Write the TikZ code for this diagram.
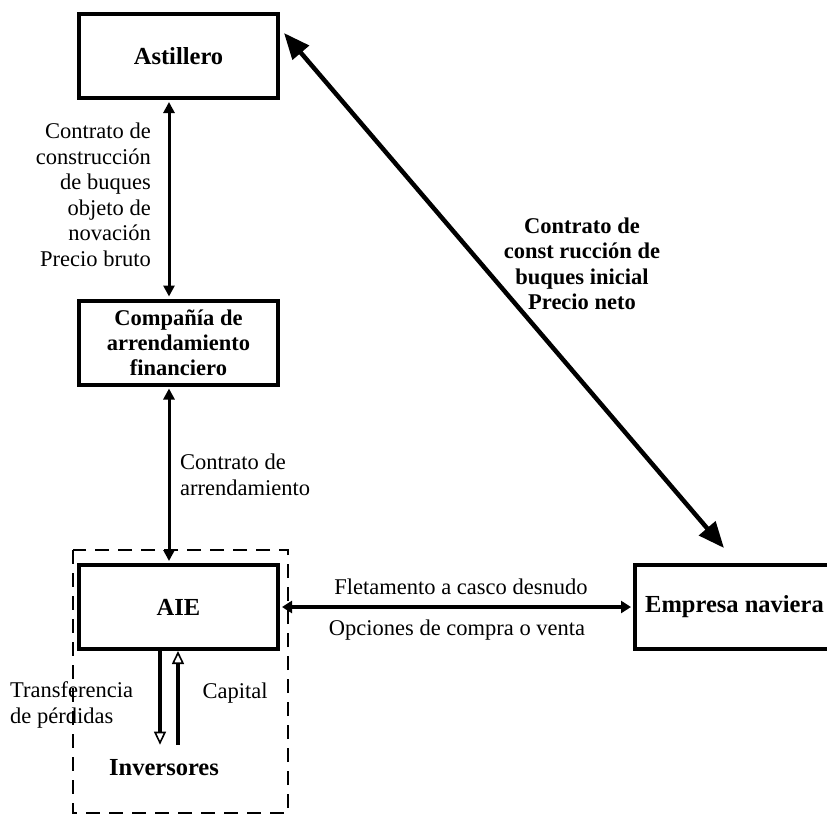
\documentclass[tikz,border=0pt]{standalone}
\usepackage{fontspec}
\setmainfont{Liberation Serif}
\usetikzlibrary{arrows.meta}
\begin{document}
\begin{tikzpicture}[x=1pt,y=-1pt,
 box/.style={draw, line width=4pt, minimum width=199pt, minimum height=84pt, inner sep=0pt, font=\bfseries\fontsize{24.5}{27}\selectfont, align=center},
 lbl/.style={inner sep=0pt, font=\fontsize{22.5}{25.5}\selectfont},
 blbl/.style={inner sep=0pt, font=\bfseries\fontsize{22.5}{25.5}\selectfont},
 varrow/.style={line width=3pt, {Triangle[length=11pt,width=11pt]}-{Triangle[length=11pt,width=11pt]}, shorten <=2pt, shorten >=2pt},
 harrow/.style={line width=4pt, {Triangle[length=10pt,width=12pt]}-{Triangle[length=10pt,width=12pt]}, shorten <=2pt, shorten >=2pt},
 darrow/.style={line width=4.5pt, {Triangle[length=26pt,width=21pt]}-{Triangle[length=26pt,width=21pt]}},
 oarrow/.style={line width=4.5pt, -{Triangle[open, length=13pt, width=12pt, line width=1.6pt]}},
 grp/.style={draw, dashed, line width=2.8pt, dash pattern=on 14pt off 9pt}
]
\useasboundingbox (0,0) rectangle (827,816);
\clip (0,0) rectangle (827,816);

\node[box] (ast) at (178.5,56) {Astillero};
\node[box, font=\bfseries\fontsize{22.5}{25}\selectfont] (comp) at (178.5,342.5) {Compañía de\\arrendamiento\\financiero};
\node[box] (aie) at (178.5,607) {AIE};
\node[box] (emp) at (734.5,607) {Empresa naviera};
\node[inner xsep=0pt, inner ysep=15pt, font=\bfseries\fontsize{24.5}{27}\selectfont] (inv) at (164,768) {Inversores};

\draw[grp] (73,550) rectangle (288,813);

\node[lbl, align=right, anchor=east] (l1) at (151,195) {Contrato de\\construcción\\de buques\\objeto de\\novación\\Precio bruto};
\node[lbl, align=left, anchor=west] (l2) at (180,475) {Contrato de\\arrendamiento};
\node[lbl] (l3) at (461,587) {Fletamento a casco desnudo};
\node[lbl] (l4) at (457,630) {Opciones de compra o venta};
\node[blbl, align=center] (l5) at (582,264) {Contrato de\\const rucción de\\buques inicial\\Precio neto};
\node[lbl, align=left, anchor=west] (l6) at (10,705) {Transferencia\\de pérdidas};
\node[lbl] (l7) at (235,693) {Capital};

\draw[varrow] ([xshift=-9.5pt]ast.south) -- ([xshift=-9.5pt]comp.north);
\draw[varrow] ([xshift=-9.5pt]comp.south) -- ([xshift=-9.5pt]aie.north);
\draw[harrow] (aie.east) -- (emp.west);

\coordinate (d1) at ([xshift=4pt,yshift=-21pt]ast.north east);
\coordinate (d2) at ([xshift=-10.5pt,yshift=15pt]emp.north);
\draw[darrow] (d1) -- (d2);

\draw[oarrow] (aie.south -| 160,0) -- (inv.north -| 160,0);
\draw[oarrow] (inv.north -| 178,0) -- (aie.south -| 178,0);
\end{tikzpicture}
\end{document}
